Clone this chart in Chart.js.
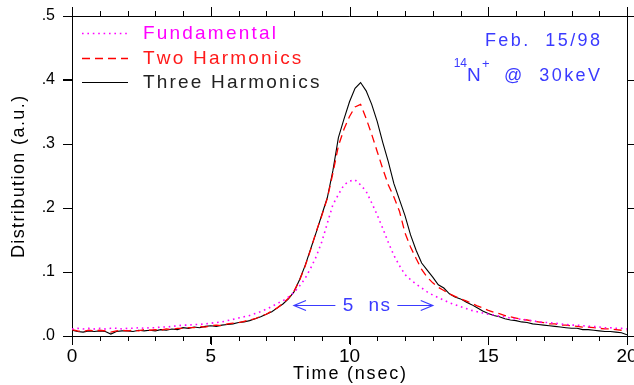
<!DOCTYPE html>
<html>
<head>
<meta charset="utf-8">
<script src="https://cdn.jsdelivr.net/npm/chart.js@4/dist/chart.umd.min.js"></script>
</head>
<body style="margin:0; background:#fff">
<canvas id="chart_dist" width="634" height="385"></canvas>
<script>
// sampling grid of the time-of-flight histogram (ns)
const T_START = 0;
const T_STEP = 0.2;

// bunch distributions, one value per 0.2 ns from 0 to 20 ns
const fundamental = [
  0.011, 0.012, 0.011, 0.012, 0.011, 0.012, 0.011, 0.012, 0.012, 0.011,
  0.012, 0.012, 0.013, 0.012, 0.013, 0.013, 0.014, 0.014, 0.015, 0.016,
  0.017, 0.017, 0.018, 0.018, 0.019, 0.020, 0.021, 0.022, 0.024, 0.026,
  0.028, 0.030, 0.032, 0.035, 0.038, 0.042, 0.046, 0.051, 0.055, 0.061,
  0.068, 0.078, 0.090, 0.106, 0.124, 0.147, 0.176, 0.205, 0.221, 0.236,
  0.242, 0.244, 0.236, 0.226, 0.208, 0.189, 0.168, 0.146, 0.126, 0.110,
  0.096, 0.088, 0.081, 0.075, 0.069, 0.064, 0.060, 0.056, 0.052, 0.049,
  0.046, 0.043, 0.040, 0.038, 0.036, 0.034, 0.033, 0.031, 0.030, 0.028,
  0.027, 0.026, 0.025, 0.024, 0.022, 0.021, 0.021, 0.020, 0.019, 0.018,
  0.017, 0.017, 0.016, 0.015, 0.015, 0.014, 0.013, 0.013, 0.012, 0.012,
  0.011
];

const twoHarmonics = [
  0.010, 0.008, 0.007, 0.009, 0.008, 0.009, 0.008, 0.006, 0.008, 0.009,
  0.008, 0.009, 0.008, 0.010, 0.009, 0.010, 0.009, 0.011, 0.010, 0.012,
  0.012, 0.013, 0.013, 0.015, 0.014, 0.016, 0.017, 0.016, 0.019, 0.020,
  0.021, 0.023, 0.025, 0.027, 0.031, 0.034, 0.039, 0.044, 0.051, 0.059,
  0.070, 0.087, 0.109, 0.135, 0.163, 0.188, 0.215, 0.254, 0.297, 0.323,
  0.343, 0.358, 0.362, 0.340, 0.315, 0.288, 0.261, 0.236, 0.217, 0.195,
  0.161, 0.139, 0.121, 0.104, 0.092, 0.083, 0.076, 0.071, 0.066, 0.062,
  0.058, 0.055, 0.051, 0.047, 0.044, 0.040, 0.037, 0.035, 0.032, 0.030,
  0.028, 0.026, 0.025, 0.023, 0.022, 0.021, 0.019, 0.019, 0.017, 0.017,
  0.016, 0.015, 0.014, 0.014, 0.013, 0.012, 0.011, 0.011, 0.010, 0.009,
  0.008
];

const threeHarmonics = [
  0.009, 0.007, 0.006, 0.008, 0.007, 0.008, 0.007, 0.003, 0.007, 0.008,
  0.008, 0.007, 0.009, 0.008, 0.009, 0.008, 0.010, 0.009, 0.011, 0.010,
  0.013, 0.012, 0.014, 0.013, 0.015, 0.016, 0.015, 0.017, 0.018, 0.019,
  0.021, 0.022, 0.024, 0.027, 0.030, 0.034, 0.038, 0.044, 0.050, 0.058,
  0.069, 0.088, 0.110, 0.136, 0.162, 0.189, 0.216, 0.258, 0.310, 0.339,
  0.366, 0.387, 0.396, 0.383, 0.362, 0.335, 0.302, 0.272, 0.238, 0.213,
  0.188, 0.158, 0.134, 0.114, 0.103, 0.092, 0.080, 0.075, 0.066, 0.061,
  0.058, 0.053, 0.049, 0.044, 0.039, 0.035, 0.032, 0.030, 0.027, 0.025,
  0.024, 0.022, 0.021, 0.019, 0.018, 0.017, 0.016, 0.015, 0.014, 0.013,
  0.012, 0.012, 0.010, 0.010, 0.009, 0.008, 0.007, 0.007, 0.006, 0.005,
  0.002
];

const seriesNames = ['Fundamental', 'Two Harmonics', 'Three Harmonics'];
const seriesColors = ['#ff00ff', '#ff0000', '#000000'];
const legendTextColors = ['#ff00ff', '#ff1a1a', '#222222'];
const xTickLabels = ['0', '5', '10', '15', '20'];
const yTickLabels = ['.0', '.1', '.2', '.3', '.4', '.5'];
const noteLines = ['Feb.  15/98', '@  30keV'];
const widthMarker = { from: 8.0, to: 13.0, level: 0.048, label: '5  ns' };

const BLUE = '#3a3aff';
const FONT = "'Liberation Sans', Arial, sans-serif";

function toPoints(values) {
  return values.map((v, i) => ({ x: T_START + i * T_STEP, y: v }));
}

// text with extra spacing between glyphs, laid out one character at a time
function spacedText(ctx, str, x, y, opts) {
  const gap = opts.spacing || 0;
  ctx.save();
  ctx.font = opts.font;
  ctx.fillStyle = opts.color;
  ctx.textAlign = 'left';
  ctx.textBaseline = 'middle';
  const chars = Array.from(str);
  const widths = chars.map(c => ctx.measureText(c).width);
  const total = widths.reduce((s, w) => s + w, 0) + gap * (chars.length - 1);
  let cx = x;
  if (opts.align === 'center') cx = x - total / 2;
  if (opts.align === 'right') cx = x - total;
  chars.forEach((c, i) => {
    ctx.fillText(c, cx, y);
    cx += widths[i] + gap;
  });
  ctx.restore();
}

// outward ticks on all four sides of the plot
function drawTicks(chart) {
  const ctx = chart.ctx;
  const a = chart.chartArea;
  const xs = chart.scales.x;
  const ys = chart.scales.y;
  ctx.save();
  ctx.strokeStyle = '#000';
  ctx.lineWidth = 1;
  ctx.beginPath();
  for (let t = 0; t <= 20; t++) {
    const px = Math.round(xs.getPixelForValue(t)) + 0.5;
    const len = t % 5 === 0 ? 9 : 5;
    ctx.moveTo(px, a.top);
    ctx.lineTo(px, a.top - len);
    ctx.moveTo(px, a.bottom);
    ctx.lineTo(px, a.bottom + len);
  }
  for (let k = 0; k < yTickLabels.length; k++) {
    const py = Math.round(ys.getPixelForValue(k / 10)) + 0.5;
    ctx.moveTo(a.left - 9, py);
    ctx.lineTo(a.left, py);
    ctx.moveTo(a.right, py);
    ctx.lineTo(a.right + 8, py);
  }
  ctx.stroke();
  ctx.restore();
}

new Chart(document.getElementById('chart_dist'), {
  type: 'line',
  data: {
    datasets: [
      {
        label: seriesNames[0],
        data: toPoints(fundamental),
        borderColor: seriesColors[0],
        borderWidth: 1.6,
        borderDash: [1.6, 3.8],
        pointRadius: 0,
        tension: 0
      },
      {
        label: seriesNames[1],
        data: toPoints(twoHarmonics),
        borderColor: seriesColors[1],
        borderWidth: 1.3,
        borderDash: [8, 5],
        pointRadius: 0,
        tension: 0
      },
      {
        label: seriesNames[2],
        data: toPoints(threeHarmonics),
        borderColor: seriesColors[2],
        borderWidth: 1.1,
        pointRadius: 0,
        tension: 0
      }
    ]
  },
  options: {
    responsive: false,
    animation: false,
    devicePixelRatio: 1,
    layout: { padding: { left: 0, right: 7, top: 16, bottom: 0 } },
    scales: {
      x: {
        type: 'linear',
        min: 0,
        max: 20,
        afterFit: s => { s.height = 49; s.paddingLeft = 0; s.paddingRight = 0; },
        ticks: {
          stepSize: 5,
          color: '#000',
          padding: 1,
          maxRotation: 0,
          autoSkip: false,
          font: { size: 19, family: FONT },
          callback: (v, i) => xTickLabels[i]
        },
        grid: { drawOnChartArea: false, drawTicks: true, tickLength: 8, color: '#000' },
        border: { display: true, color: '#000', width: 1 }
      },
      y: {
        min: 0,
        max: 0.5,
        afterFit: s => { s.width = 72; s.paddingTop = 0; s.paddingBottom = 0; },
        ticks: {
          stepSize: 0.1,
          color: '#000',
          padding: 8,
          autoSkip: false,
          font: { size: 16, family: FONT },
          callback: (v, i) => yTickLabels[i]
        },
        grid: { drawOnChartArea: false, drawTicks: true, tickLength: 9, color: '#000' },
        border: { display: true, color: '#000', width: 1 }
      }
    },
    plugins: {
      legend: { display: false },
      tooltip: { enabled: false }
    }
  },
  plugins: [{
    id: 'decor',
    beforeDatasetsDraw: chart => { drawTicks(chart); },
    afterDraw: chart => {
      const ctx = chart.ctx;
      const a = chart.chartArea;
      const xs = chart.scales.x;
      const ys = chart.scales.y;

      // top and right edges of the frame
      ctx.save();
      ctx.strokeStyle = '#000';
      ctx.lineWidth = 1;
      ctx.beginPath();
      ctx.moveTo(a.left, a.top + 0.5);
      ctx.lineTo(a.right + 0.5, a.top + 0.5);
      ctx.lineTo(a.right + 0.5, a.bottom);
      ctx.stroke();
      ctx.restore();
      drawTicks(chart);

      spacedText(ctx, 'Time (nsec)', (a.left + a.right) / 2, 374,
        { font: '18px ' + FONT, color: '#000', align: 'center', spacing: 1.8 });

      ctx.save();
      ctx.translate(19, 177);
      ctx.rotate(-Math.PI / 2);
      spacedText(ctx, 'Distribution (a.u.)', 0, 0,
        { font: '18px ' + FONT, color: '#000', align: 'center', spacing: 1.4 });
      ctx.restore();

      // legend
      const rows = [33, 58, 82];
      chart.data.datasets.forEach((d, i) => {
        ctx.save();
        ctx.strokeStyle = d.borderColor;
        ctx.lineWidth = d.borderWidth;
        ctx.setLineDash(d.borderDash || []);
        ctx.beginPath();
        ctx.moveTo(82, rows[i] + 0.5);
        ctx.lineTo(128, rows[i] + 0.5);
        ctx.stroke();
        ctx.restore();
        spacedText(ctx, d.label, 143, rows[i] + 1,
          { font: '19px ' + FONT, color: legendTextColors[i], spacing: 2.2 });
      });

      // run notes, top right
      spacedText(ctx, noteLines[0], 600, 41, { font: '18px ' + FONT, color: BLUE, align: 'right', spacing: 2.4 });
      spacedText(ctx, '14', 467, 64, { font: '12px ' + FONT, color: BLUE, align: 'right' });
      spacedText(ctx, 'N', 467, 76, { font: '19px ' + FONT, color: BLUE });
      spacedText(ctx, '+', 482, 64, { font: '13px ' + FONT, color: BLUE });
      spacedText(ctx, noteLines[1], 600, 76, { font: '18px ' + FONT, color: BLUE, align: 'right', spacing: 2.4 });

      // 5 ns width marker
      const y = Math.round(ys.getPixelForValue(widthMarker.level)) + 0.5;
      const x1 = xs.getPixelForValue(widthMarker.from);
      const x2 = xs.getPixelForValue(widthMarker.to);
      const xm = (x1 + x2) / 2;
      ctx.save();
      ctx.strokeStyle = BLUE;
      ctx.lineWidth = 1.2;
      ctx.beginPath();
      ctx.moveTo(xm - 28, y);
      ctx.lineTo(x1, y);
      ctx.moveTo(x1 + 12, y - 5);
      ctx.lineTo(x1, y);
      ctx.lineTo(x1 + 12, y + 5);
      ctx.moveTo(xm + 34, y);
      ctx.lineTo(x2, y);
      ctx.moveTo(x2 - 12, y - 5);
      ctx.lineTo(x2, y);
      ctx.lineTo(x2 - 12, y + 5);
      ctx.stroke();
      ctx.restore();
      spacedText(ctx, widthMarker.label, xm + 3, y, { font: '19px ' + FONT, color: BLUE, align: 'center', spacing: 1.5 });
    }
  }]
});
</script>
</body>
</html>
